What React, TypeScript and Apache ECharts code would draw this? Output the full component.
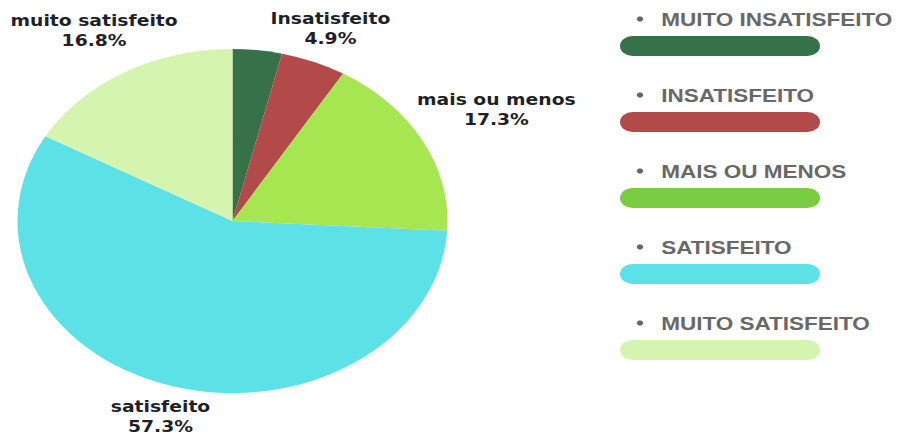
import React, { useEffect, useRef } from "react";
import * as echarts from "echarts";

const categories = ["muito insatisfeito", "Insatisfeito", "mais ou menos", "satisfeito", "muito satisfeito"];
const values = [3.7, 4.9, 17.3, 57.3, 16.8];
const legendLabels = ["MUITO INSATISFEITO", "INSATISFEITO", "MAIS OU MENOS", "SATISFEITO", "MUITO SATISFEITO"];
const sliceColors = ["#367149", "#b34a4a", "#a6e651", "#5ce1e6", "#d4f4b0"];
const legendColors = ["#367149", "#b34a4a", "#7acc42", "#5ce1e6", "#d4f4b0"];
const hiddenLabels = [true, false, false, false, false];

const STRETCH = 1.25;
const W = 901 / STRETCH;
const H = 434;
const CX = 186;
const CY = 221;
const R = 172;

export default function App() {
  const ref = useRef<HTMLDivElement>(null);
  useEffect(() => {
    if (!ref.current) return;
    const chart = echarts.init(ref.current, undefined, { renderer: "svg" });
    const total = values.reduce((a, b) => a + b, 0);
    const midAngle = (i: number) => {
      let before = 0;
      for (let k = 0; k < i; k++) before += values[k];
      return ((before + values[i] / 2) / total) * Math.PI * 2;
    };
    const graphics: any[] = [];
    legendLabels.forEach((lab, i) => {
      const barY = 36 + i * 76;
      graphics.push({
        type: "circle",
        shape: { cx: 512, cy: barY - 17, r: 2.6 },
        style: { fill: "#666666" },
      });
      graphics.push({
        type: "text",
        x: 529,
        y: barY - 16,
        style: {
          text: lab,
          fill: "#686868",
          font: "bold 18px 'Liberation Sans', Arial, sans-serif",
          textAlign: "left",
          textVerticalAlign: "middle",
        },
      });
      graphics.push({
        type: "rect",
        shape: { x: 496, y: barY, width: 160, height: 20, r: 10 },
        style: { fill: legendColors[i] },
      });
    });
    chart.setOption({
      animation: false,
      graphic: graphics,
      series: [
        {
          type: "pie",
          center: [CX, CY],
          radius: R,
          startAngle: 90,
          clockwise: true,
          data: categories.map((name, i) => ({
            name,
            value: values[i],
            itemStyle: { color: sliceColors[i] },
            label: { show: !hiddenLabels[i] },
          })),
          label: {
            position: "outside",
            formatter: (p: any) => `${p.name}\n${Number(p.value).toFixed(1)}%`,
            color: "#1f1f2a",
            fontFamily: "'DejaVu Sans', sans-serif",
            fontWeight: "bold",
            fontSize: 15,
            lineHeight: 20,
            align: "center",
            overflow: "none",
          },
          labelLine: { show: false },
          labelLayout: (params: any) => {
            const a = midAngle(params.dataIndex);
            const dx = Math.sin(a);
            const dy = -Math.cos(a);
            const w = params.labelRect.width;
            const h = params.labelRect.height;
            const half = Math.sqrt((w / 2 * dx) ** 2 + (h / 2 * dy) ** 2);
            const dist = R + 10 + half;
            return {
              x: CX + dx * dist,
              y: CY + dy * dist,
              align: "center",
              verticalAlign: "middle",
            };
          },
        },
      ],
    });
    return () => chart.dispose();
  }, []);
  return (
    <div
      ref={ref}
      style={{
        position: "absolute",
        left: 0,
        top: 0,
        width: W,
        height: H,
        transform: `scaleX(${STRETCH})`,
        transformOrigin: "0 0",
      }}
    />
  );
}
